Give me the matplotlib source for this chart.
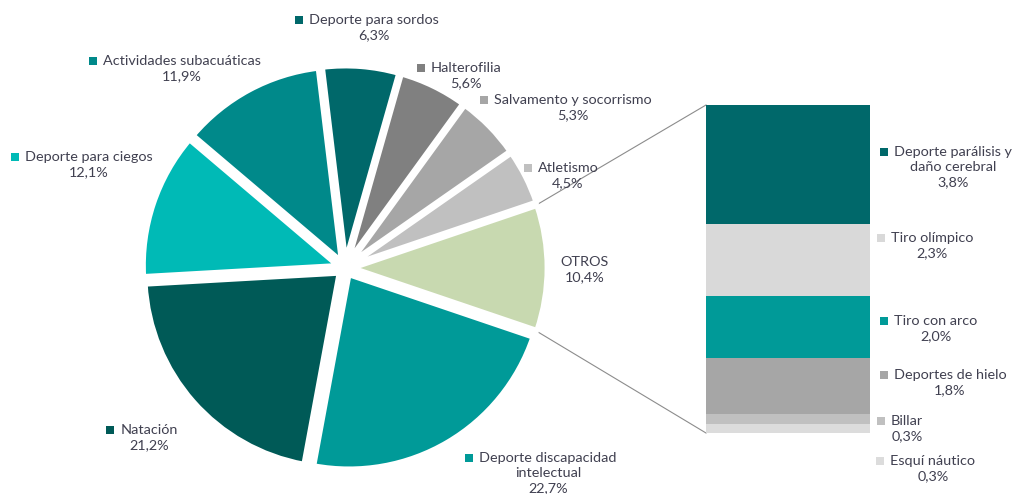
import math

import matplotlib

matplotlib.use("Agg")
import matplotlib.pyplot as plt
from matplotlib.patches import Rectangle

# data -----------------------------------------------------------------
pie_labels = [
    ["OTROS"],
    ["Atletismo"],
    ["Salvamento y socorrismo"],
    ["Halterofilia"],
    ["Deporte para sordos"],
    ["Actividades subacuáticas"],
    ["Deporte para ciegos"],
    ["Natación"],
    ["Deporte discapacidad", "intelectual"],
]
pie_values = [10.4, 4.5, 5.3, 5.6, 6.3, 11.9, 12.1, 21.2, 22.7]
pie_colors = ["#c8d9b0", "#c0c0c0", "#a6a6a6", "#808080", "#00686a",
              "#00898a", "#00bab6", "#005a57", "#009a98"]

bar_labels = [
    ["Deporte parálisis y", "daño cerebral"],
    ["Tiro olímpico"],
    ["Tiro con arco"],
    ["Deportes de hielo"],
    ["Billar"],
    ["Esquí náutico"],
]
bar_values = [3.8, 2.3, 2.0, 1.8, 0.3, 0.3]
bar_colors = ["#00686a", "#d9d9d9", "#009a98", "#a6a6a6", "#c0c0c0", "#dcdcdc"]

# layout (pixels, y measured from top) ---------------------------------
W, H = 1015, 494
PIE_CENTER = (345, 268)
PIE_RADIUS = 194
PIE_EXPLODE = 8
BAR_BOX = (706, 105, 164, 328)  # left, top, width, height
TEXT_COLOR = "#404050"
LINE_STEP = 15

# centre x of the text block, y of first line, draw marker
pie_label_pos = [
    (585, 262, False),
    (568, 168, True),
    (573, 100, True),
    (466, 68, True),
    (374, 20, True),
    (182, 61, True),
    (89, 157, True),
    (149, 430, True),
    (548, 458, True),
]
bar_label_pos = [
    (953, 152, True),
    (932, 238, True),
    (936, 321, True),
    (950, 375, True),
    (907, 421, True),
    (933, 461, True),
]

plt.rcParams["font.family"] = ["Lato", "DejaVu Sans"]


def pct(v):
    return f"{v:.1f}".replace(".", ",") + "%"


def draw_label(ax, renderer, cx, y, lines, color, marker):
    texts = []
    for i, line in enumerate(lines):
        t = ax.text(cx, H - (y + i * LINE_STEP), line, ha="center", va="center",
                    fontsize=10.4, color=TEXT_COLOR)
        texts.append(t)
    if marker:
        bb = texts[0].get_window_extent(renderer)
        ax.add_patch(Rectangle((bb.x0 - 14, H - y - 4), 8, 8, facecolor=color,
                               edgecolor="none"))


fig = plt.figure(figsize=(W / 100, H / 100), dpi=100)
ax = fig.add_axes([0, 0, 1, 1])

cx, cy = PIE_CENTER[0], H - PIE_CENTER[1]
start = -pie_values[0] / 100 * 360 / 2
wedges, _ = ax.pie(
    pie_values,
    colors=pie_colors,
    startangle=start,
    counterclock=True,
    center=(cx, cy),
    radius=PIE_RADIUS,
    explode=[PIE_EXPLODE] * len(pie_values),
    wedgeprops=dict(edgecolor="white", linewidth=3.5),
)
ax.set_xlim(0, W)
ax.set_ylim(0, H)
ax.set_aspect("auto")
ax.axis("off")

# stacked bar of OTROS breakdown
bl, bt, bw, bh = BAR_BOX
ax2 = fig.add_axes([bl / W, (H - bt - bh) / H, bw / W, bh / H])
bottom = 0.0
for v, c in zip(bar_values, bar_colors):
    ax2.bar(0, v, bottom=bottom, width=1.0, color=c, edgecolor="none")
    bottom += v
ax2.set_xlim(-0.5, 0.5)
ax2.set_ylim(bottom, 0)
ax2.axis("off")

# connector lines from OTROS wedge to the bar
w0 = wedges[0]
for ang, by in ((w0.theta2, bt), (w0.theta1, bt + bh)):
    wx = w0.center[0] + (w0.r - 4) * math.cos(math.radians(ang))
    wy = w0.center[1] + (w0.r - 4) * math.sin(math.radians(ang))
    ax.plot([wx, bl], [wy, H - by], color="#8c8c8c", lw=0.8, zorder=0)

renderer = fig.canvas.get_renderer()
for lines, v, c, (lx, ly, m) in zip(pie_labels, pie_values, pie_colors, pie_label_pos):
    draw_label(ax, renderer, lx, ly, lines + [pct(v)], c, m)
for lines, v, c, (lx, ly, m) in zip(bar_labels, bar_values, bar_colors, bar_label_pos):
    draw_label(ax, renderer, lx, ly, lines + [pct(v)], c, m)

fig.savefig("out.png", dpi=100)
